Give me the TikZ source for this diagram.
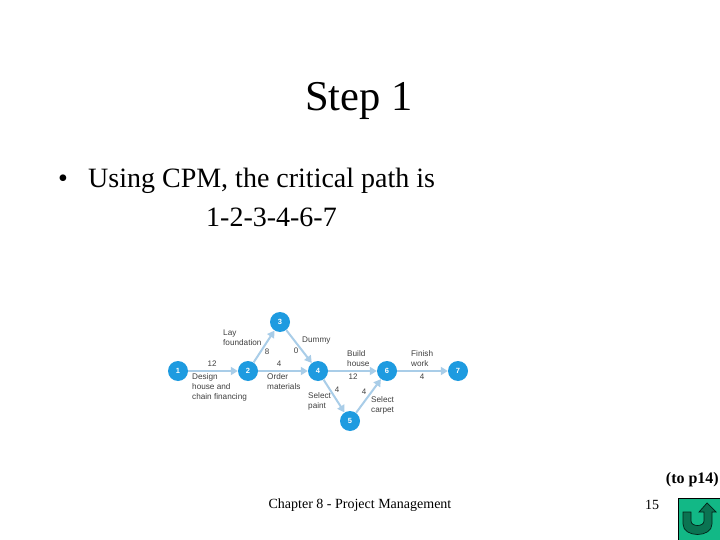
\documentclass[tikz,border=0pt]{standalone}
\usepackage{fontspec}
\setmainfont{Liberation Serif}
\newfontfamily\lblfont{Liberation Sans}
\usetikzlibrary{arrows.meta}
\definecolor{nodeblue}{HTML}{1E9BE0}
\definecolor{edgeblue}{HTML}{A9CDE8}
\definecolor{lblgray}{HTML}{404040}
\definecolor{btnteal}{HTML}{12B886}
\definecolor{btndark}{HTML}{0B7352}
\tikzset{
  evt/.style={circle,fill=nodeblue,text=white,minimum size=20pt,inner sep=0pt,font=\lblfont\fontsize{7.5}{8}\selectfont\bfseries},
  act/.style={draw=edgeblue,line width=2pt,-{Triangle[length=7pt,width=8pt]}},
  lbl/.style={text=lblgray,font=\lblfont\fontsize{8.2}{10}\selectfont,align=left,inner sep=0pt,anchor=west},
  num/.style={text=lblgray,font=\lblfont\fontsize{8}{9}\selectfont,inner sep=0pt},
  title/.style={font=\fontsize{42.5}{46}\selectfont,inner sep=0pt},
  body/.style={font=\fontsize{28}{32}\selectfont,inner sep=0pt,anchor=west},
  small/.style={font=\fontsize{14}{16}\selectfont,inner sep=0pt}
}
\begin{document}
\begin{tikzpicture}[x=1pt,y=-1pt]
\useasboundingbox[fill=white] (0,0) rectangle (720,540);
\node[title] (t) at (359,101) {Step 1};
\node[body] (b0) at (58,181) {•};
\node[body] (b1) at (88,181) {Using CPM, the critical path is};
\node[body] (b2) at (206,217) {1-2-3-4-6-7};
\node (n1) [evt] at (178,371) {1};
\node (n2) [evt] at (248,371) {2};
\node (n3) [evt] at (280,322) {3};
\node (n4) [evt] at (318,371) {4};
\node (n5) [evt] at (350,421) {5};
\node (n6) [evt] at (387,371) {6};
\node (n7) [evt] at (458,371) {7};
\draw[act] (n1) -- (n2);
\draw[act] (n2) -- (n3);
\draw[act] (n2) -- (n4);
\draw[act] (n3) -- (n4);
\draw[act] (n4) -- (n6);
\draw[act] (n4) -- (n5);
\draw[act] (n5) -- (n6);
\draw[act] (n6) -- (n7);
\node[num] (w12) at (212,364) {12};
\node[num] (w8) at (267,352) {8};
\node[num] (w0) at (296,351) {0};
\node[num] (w4a) at (279,364) {4};
\node[num] (w12b) at (353,377) {12};
\node[num] (w4b) at (422,377) {4};
\node[num] (w4c) at (337,390) {4};
\node[num] (w4d) at (364,392) {4};
\node[lbl] (l1) at (192,387) {Design\\house and\\chain financing};
\node[lbl] (l2) at (223,338) {Lay\\foundation};
\node[lbl] (l3) at (302,341) {Dummy};
\node[lbl] (l4) at (267,382) {Order\\materials};
\node[lbl] (l5) at (347,359) {Build\\house};
\node[lbl] (l6) at (411,359) {Finish\\work};
\node[lbl] (l7) at (308,401) {Select\\paint};
\node[lbl] (l8) at (371,405) {Select\\carpet};
\node[small,font=\fontsize{16}{18}\selectfont\bfseries,anchor=east] (p) at (719,479.5) {(to p14)};
\node[small] (c) at (360,505) {Chapter 8 - Project Management};
\node[small] (pg) at (652,505) {15};
\fill[btnteal] (678,498) rectangle (720,540);
\draw[black,line width=0.8pt] (720,498) -- (678,498) -- (678,540);
\draw[black!70!btndark,fill=btndark,line width=0.7pt]
  (683,512) -- (683,524) .. controls (683,538) and (712,538) .. (712,524)
  -- (712,512) -- (716,512) -- (707,503) -- (699,512) -- (704,512)
  -- (704,521) .. controls (704,527) and (691,527) .. (691,521) -- (691,512) -- cycle;
\end{tikzpicture}
\end{document}
